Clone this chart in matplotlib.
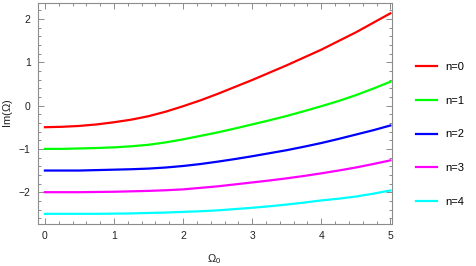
import numpy as np
import matplotlib
matplotlib.use('Agg')
import matplotlib.pyplot as plt
from matplotlib.ticker import MultipleLocator

# values (step 0.25 in Omega_0)
omega0 = [0.0, 0.25, 0.5, 0.75, 1.0, 1.25, 1.5, 1.75, 2.0, 2.25, 2.5,
          2.75, 3.0, 3.25, 3.5, 3.75, 4.0, 4.25, 4.5, 4.75, 5.0]
im_n0 = [-0.50, -0.49, -0.47, -0.435, -0.385, -0.325, -0.245, -0.14, -0.015, 0.12, 0.27,
         0.43, 0.59, 0.76, 0.93, 1.11, 1.29, 1.49, 1.69, 1.91, 2.13]
im_n1 = [-1.00, -1.00, -0.99, -0.98, -0.965, -0.94, -0.905, -0.85, -0.78, -0.70, -0.62,
         -0.53, -0.435, -0.34, -0.24, -0.13, -0.015, 0.105, 0.24, 0.39, 0.55]
im_n2 = [-1.50, -1.50, -1.50, -1.49, -1.48, -1.47, -1.455, -1.43, -1.395, -1.35, -1.295,
         -1.235, -1.17, -1.10, -1.03, -0.95, -0.865, -0.77, -0.67, -0.57, -0.46]
im_n3 = [-2.00, -2.00, -2.00, -1.995, -1.99, -1.98, -1.97, -1.955, -1.935, -1.90, -1.865,
         -1.82, -1.775, -1.73, -1.68, -1.625, -1.565, -1.50, -1.43, -1.35, -1.265]
im_n4 = [-2.50, -2.50, -2.50, -2.50, -2.495, -2.49, -2.48, -2.47, -2.455, -2.44, -2.42,
         -2.39, -2.36, -2.325, -2.285, -2.24, -2.19, -2.15, -2.10, -2.035, -1.96]

series = [im_n0, im_n1, im_n2, im_n3, im_n4]
labels = ['n=0', 'n=1', 'n=2', 'n=3', 'n=4']
colors = ['#ff0000', '#00ff00', '#0000ff', '#ff00ff', '#00ffff']

plt.rcParams['font.family'] = ['Liberation Sans', 'DejaVu Sans']
plt.rcParams['mathtext.fontset'] = 'custom'
plt.rcParams['mathtext.rm'] = 'Liberation Sans'
plt.rcParams['mathtext.it'] = 'Liberation Sans'

fig = plt.figure(figsize=(4.76, 2.66), dpi=100)
ax = fig.add_axes([0.079, 0.157, 0.744, 0.832])

for ys, lab, c in zip(series, labels, colors):
    ax.plot(omega0, ys, color=c, lw=1.6, label=lab, solid_joinstyle='round')

ax.set_xlim(-0.106, 5.02)
ax.set_ylim(-2.74, 2.37)

frame_col = '#8c8c8c'
for sp in ax.spines.values():
    sp.set_color(frame_col)
    sp.set_linewidth(0.8)

ax.xaxis.set_major_locator(MultipleLocator(1))
ax.xaxis.set_minor_locator(MultipleLocator(0.2))
ax.yaxis.set_major_locator(MultipleLocator(1))
ax.yaxis.set_minor_locator(MultipleLocator(0.2))
ax.tick_params(which='both', direction='in', top=True, right=True,
               color=frame_col, width=0.7, labelsize=7.5, labelcolor='#222222')
ax.tick_params(which='major', length=4, pad=5)
ax.tick_params(which='minor', length=2)

ax.set_xlabel(r'$\Omega_0$', fontsize=8, color='#222222', labelpad=8)
ax.set_ylabel(r'Im($\Omega$)', fontsize=8, color='#222222', labelpad=3)

fig.legend(loc='upper left', bbox_to_anchor=(0.874, 0.768), frameon=False,
           fontsize=8, borderpad=0, borderaxespad=0, handlelength=1.85,
           handletextpad=0.8, labelspacing=2.15)

fig.savefig('out.png', dpi=100)
